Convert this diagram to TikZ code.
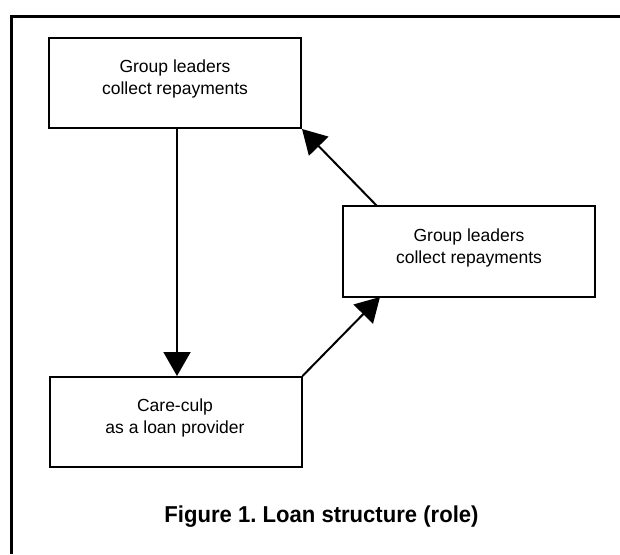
\documentclass[tikz,border=0pt]{standalone}
\usepackage{fontspec}
\setmainfont{Liberation Sans}
\newfontfamily\capfont[FakeStretch=0.96]{Liberation Sans}
\usetikzlibrary{arrows.meta}
\frenchspacing
\tikzset{
  box/.style={draw=black, line width=2pt, minimum width=252pt, minimum height=90pt, inner sep=0pt},
  lbl/.style={align=center, font=\fontsize{17.5pt}{22pt}\selectfont, inner sep=0pt},
  conn/.style={line width=2pt, -{Triangle[length=24pt,width=27pt]}},
  frame/.style={line width=3pt}
}
\begin{document}
\begin{tikzpicture}[x=1pt,y=-1pt]
\useasboundingbox (0,0) rectangle (620,554);
\draw[frame] (620,16) -- (11.5,16) -- (11.5,554);
\node[box] (b1) at (175,83) {};
\node[lbl] (t1) at (175,79) {Group leaders\\collect repayments};
\node[box, minimum height=91pt] (b2) at (469,251.5) {};
\node[lbl] (t2) at (469,248) {Group leaders\\collect repayments};
\node[box] (b3) at (175.5,422) {};
\node[lbl] (t3) at (175,418) {Care-culp\\as a loan provider};
\coordinate (b2top) at (377,206);
\coordinate (b2bot) at (380,297);
\draw[conn] (b1.south -| 177,0) -- (b3.north -| 177,0);
\draw[conn] (b2top) -- (b1.south east);
\draw[conn] (b3.north east) -- (b2bot);
\node[font=\capfont\bfseries\fontsize{23pt}{27pt}\selectfont, inner sep=0pt] (cap) at (321.5,517) {Figure 1. Loan structure (role)};
\end{tikzpicture}
\end{document}
